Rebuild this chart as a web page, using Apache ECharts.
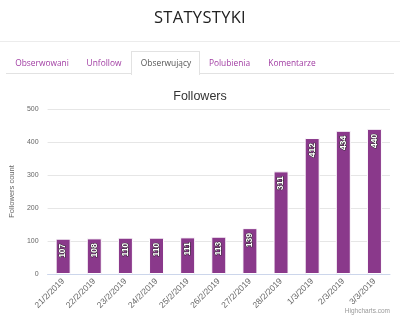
<!DOCTYPE html>
<html>
<head>
<meta charset="utf-8">
<title>Statystyki</title>
<script src="https://cdn.jsdelivr.net/npm/echarts@6/dist/echarts.min.js"></script>
<style>
  html, body { margin: 0; padding: 0; background: #fff; }
  #page { position: relative; width: 400px; height: 334px; overflow: hidden; }
  #chart { position: absolute; left: 0; top: 0; width: 400px; height: 334px; }
  .head { position: absolute; left: 0; top: 5px; width: 400px; text-align: center;
          font-family: "Open Sans", sans-serif; font-size: 16.5px; color: #222; letter-spacing: 0.3px; line-height: 24px; }
  .rule { position: absolute; left: 0; top: 41px; width: 400px; height: 1px; background: #ececec; }
  .tabline { position: absolute; left: 6px; top: 73px; width: 388px; height: 1px; background: #e2e2e2; }
  .tab { position: absolute; top: 56px; font-family: "Open Sans", sans-serif; font-size: 8.4px;
         color: #a03ba2; line-height: 13px; transform: translateX(-50%); white-space: nowrap; }
  .tab.active { color: #555; }
  .tabbox { position: absolute; left: 131px; top: 51px; width: 67px; height: 23px;
            border: 1px solid #e2e2e2; border-bottom: none; background: #fff; }
</style>
</head>
<body>
<div id="page">
  <div id="chart"></div>
  <div class="head">STATYSTYKI</div>
  <div class="rule"></div>
  <div class="tabline"></div>
  <div class="tabbox"></div>
  <div class="tab" style="left:42px">Obserwowani</div>
  <div class="tab" style="left:104px">Unfollow</div>
  <div class="tab active" style="left:166px">Obserwujący</div>
  <div class="tab" style="left:229.5px">Polubienia</div>
  <div class="tab" style="left:292px">Komentarze</div>
</div>
<script>
// Daily follower counts
const categories = ['21/2/2019', '22/2/2019', '23/2/2019', '24/2/2019', '25/2/2019', '26/2/2019',
                    '27/2/2019', '28/2/2019', '1/3/2019', '2/3/2019', '3/3/2019'];
const followers = [107, 108, 110, 110, 111, 113, 139, 311, 412, 434, 440];
const yTicks = [0, 100, 200, 300, 400, 500];

const baseFont = '"Liberation Sans", Arial, sans-serif';
const chart = echarts.init(document.getElementById('chart'), null, { renderer: 'canvas' });

chart.setOption({
  animation: false,
  backgroundColor: 'transparent',
  title: {
    text: 'Followers',
    left: 'center',
    top: 85,
    textStyle: { fontFamily: baseFont, fontSize: 12.5, fontWeight: 'normal', color: '#333' }
  },
  graphic: [{
    type: 'text',
    right: 10,
    top: 308,
    style: { text: 'Highcharts.com', font: '6.5px ' + baseFont, fill: '#999' }
  }],
  grid: { left: 45, right: 10, top: 109, bottom: 60 },
  xAxis: {
    type: 'category',
    data: categories,
    axisLine: { lineStyle: { color: '#ccd6eb' } },
    axisTick: { length: 5, lineStyle: { color: '#ccd6eb' } },
    axisLabel: { rotate: 45, fontSize: 8.5, color: '#666', fontFamily: baseFont, margin: 6, interval: 0 }
  },
  yAxis: {
    type: 'value',
    min: yTicks[0],
    max: yTicks[yTicks.length - 1],
    interval: 100,
    name: 'Followers count',
    nameLocation: 'middle',
    nameGap: 23,
    nameTextStyle: { fontSize: 7.5, color: '#666', fontFamily: baseFont },
    axisLine: { show: false },
    axisTick: { show: false },
    axisLabel: { fontSize: 7, color: '#666', fontFamily: baseFont, margin: 9 },
    splitLine: { lineStyle: { color: '#e6e6e6' } }
  },
  series: [{
    type: 'bar',
    data: followers,
    barWidth: 15,
    itemStyle: { color: '#8a398b', borderColor: '#fff', borderWidth: 1 },
    label: {
      show: true,
      position: 'insideTop',
      rotate: 90,
      align: 'right',
      verticalAlign: 'middle',
      distance: 5,
      color: '#fff',
      fontWeight: 'bold',
      fontSize: 8.5,
      fontFamily: baseFont,
      textBorderColor: '#333',
      textBorderWidth: 1
    }
  }]
});
</script>
</body>
</html>
